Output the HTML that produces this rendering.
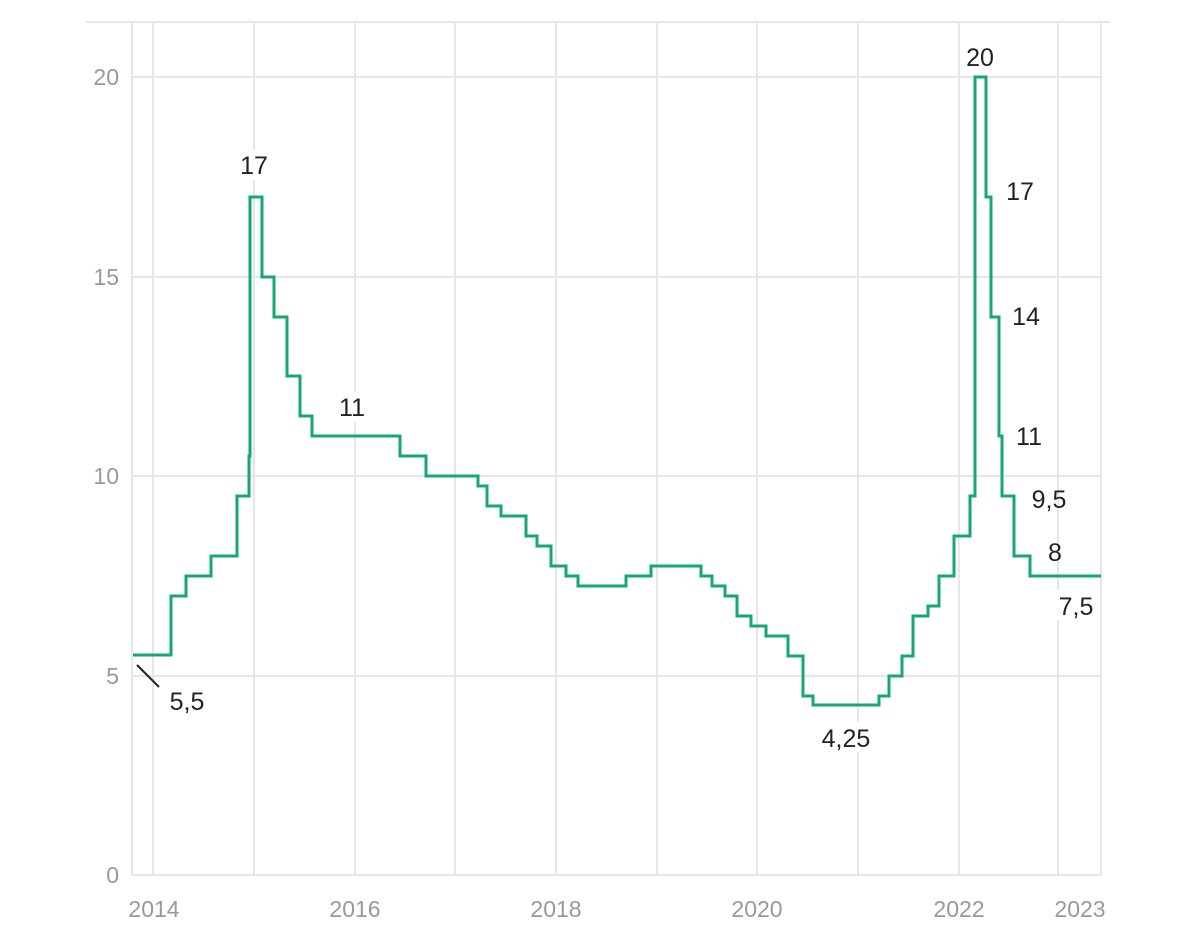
<!DOCTYPE html>
<html><head><meta charset="utf-8"><style>
html,body{margin:0;padding:0;background:#fff;}
svg{display:block;}
.t{font-family:"Liberation Sans",sans-serif;font-size:23px;fill:#999;}
.l{font-family:"Liberation Sans",sans-serif;font-size:25px;fill:#222;}
</style></head><body>
<svg width="1200" height="951" viewBox="0 0 1200 951" xmlns="http://www.w3.org/2000/svg">
<g stroke="#e6e6e6" stroke-width="2" fill="none">
<line x1="86" y1="22" x2="1110" y2="22"/>
<line x1="132" y1="77" x2="1101" y2="77"/>
<line x1="132" y1="277" x2="1101" y2="277"/>
<line x1="132" y1="476" x2="1101" y2="476"/>
<line x1="132" y1="676" x2="1101" y2="676"/>
<line x1="132" y1="875" x2="1101" y2="875"/>
<line x1="132" y1="22" x2="132" y2="875"/>
<line x1="153" y1="22" x2="153" y2="875"/>
<line x1="254" y1="22" x2="254" y2="875"/>
<line x1="355" y1="22" x2="355" y2="875"/>
<line x1="455" y1="22" x2="455" y2="875"/>
<line x1="556" y1="22" x2="556" y2="875"/>
<line x1="657" y1="22" x2="657" y2="875"/>
<line x1="757" y1="22" x2="757" y2="875"/>
<line x1="858" y1="22" x2="858" y2="875"/>
<line x1="959" y1="22" x2="959" y2="875"/>
<line x1="1058" y1="22" x2="1058" y2="875"/>
<line x1="1101" y1="22" x2="1101" y2="875"/>
</g>
<g class="t" text-anchor="end">
<text x="119" y="85">20</text>
<text x="119" y="285">15</text>
<text x="119" y="484">10</text>
<text x="119" y="684">5</text>
<text x="119" y="883">0</text>
</g>
<g class="t" text-anchor="middle">
<text x="154" y="917">2014</text>
<text x="355" y="917">2016</text>
<text x="556" y="917">2018</text>
<text x="757" y="917">2020</text>
<text x="959" y="917">2022</text>
<text x="1080" y="917">2023</text>
</g>
<rect x="1052" y="590" width="48" height="30" fill="#fff"/>
<rect x="815" y="722" width="62" height="30" fill="#fff"/>
<rect x="335" y="392" width="36" height="30" fill="#fff"/>
<rect x="237" y="150" width="36" height="30" fill="#fff"/>
<path fill="none" stroke="#16a86c" stroke-width="3" stroke-linejoin="miter" d="
M133,655 H171 V596 H186 V576 H211 V556 H237 V496 H249 V456 H250 V197 H262 V277 H274 V317 H287 V376 H300 V416 H312 V436
H400 V456 H426 V476 H478 V486 H487 V506 H501 V516 H526 V536 H537 V546 H551 V566 H566 V576 H578 V586 H626 V576 H651 V566
H701 V576 H712 V586 H725 V596 H737 V616 H751 V626 H766 V636 H788 V656 H803 V696 H813 V705 H879 V696 H889 V676 H902 V656
H913 V616 H928 V606 H939 V576 H954 V536 H970 V496 H975 V77 H986 V197 H991 V317 H999 V436 H1002 V496 H1014 V556 H1030 V576 H1101"/>
<line x1="137" y1="665" x2="159" y2="687" stroke="#222" stroke-width="2"/>
<g class="l" text-anchor="middle">
<text x="187" y="710">5,5</text>
<text x="254" y="174">17</text>
<text x="352" y="416">11</text>
<text x="846" y="747">4,25</text>
<text x="980" y="66">20</text>
<text x="1020" y="200">17</text>
<text x="1026" y="325">14</text>
<text x="1029" y="445">11</text>
<text x="1049" y="508">9,5</text>
<text x="1055" y="561">8</text>
<text x="1076" y="615">7,5</text>
</g>
</svg>
</body></html>
